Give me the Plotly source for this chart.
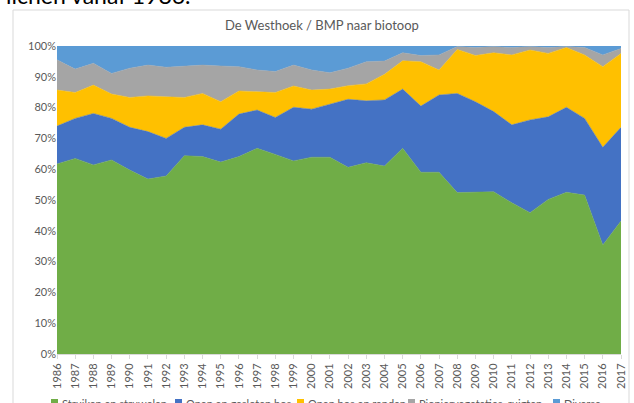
import plotly.graph_objects as go

years = list(range(1986, 2018))

struiken = [61.7, 63.5, 61.4, 63.0, 59.7, 56.8, 57.8, 64.4, 64.1, 62.3, 64.1, 66.8, 64.8, 62.7, 63.9, 63.9,
            60.6, 62.1, 61.0, 66.8, 59.0, 59.0, 52.4, 52.5, 52.7, 49.1, 45.9, 50.2, 52.5, 51.6, 35.4, 43.2]
open_gesloten_bos = [12.3, 13.0, 16.7, 13.5, 13.9, 15.4, 12.2, 9.2, 10.3, 10.7, 13.8, 12.4, 12.0, 17.4, 15.6, 17.2,
                     22.1, 20.1, 21.5, 19.2, 21.5, 25.1, 32.2, 29.4, 26.0, 25.3, 30.1, 26.8, 27.6, 24.9, 31.7, 30.4]
open_bos_randen = [11.7, 8.4, 9.2, 7.9, 9.7, 11.6, 13.5, 9.7, 10.2, 8.9, 7.5, 6.0, 8.1, 6.9, 6.2, 4.9,
                   4.4, 5.5, 8.3, 9.2, 14.4, 8.1, 14.3, 15.0, 19.1, 22.7, 22.7, 20.6, 19.4, 20.6, 26.2, 24.0]
pionier = [9.8, 7.6, 7.1, 6.7, 9.5, 10.0, 9.6, 10.2, 9.2, 11.6, 7.9, 7.0, 6.8, 6.8, 6.5, 5.3,
           5.7, 7.2, 4.3, 2.6, 2.0, 4.9, 0.9, 2.6, 2.0, 2.4, 1.1, 1.9, 0.3, 2.4, 3.8, 1.6]
diverse = [4.5, 7.5, 5.6, 8.9, 7.2, 6.2, 6.9, 6.5, 6.2, 6.5, 6.7, 7.8, 8.3, 6.2, 7.8, 8.7,
           7.2, 5.1, 4.9, 2.2, 3.1, 2.9, 0.2, 0.5, 0.2, 0.5, 0.2, 0.5, 0.2, 0.5, 2.9, 0.8]

series = [
    ("Struiken en struwelen", struiken, "#70AD47"),
    ("Open en gesloten bos", open_gesloten_bos, "#4472C4"),
    ("Open bos en randen", open_bos_randen, "#FFC000"),
    ("Pioniervegetaties, ruigten", pionier, "#A5A5A5"),
    ("Diverse", diverse, "#5B9BD5"),
]

FONT = "Lato, 'Open Sans', sans-serif"
TXT = "#595959"

fig = go.Figure()
for name, vals, col in series:
    fig.add_trace(go.Scatter(
        x=years, y=vals, name=name, mode="lines",
        stackgroup="one", groupnorm="percent",
        line=dict(width=0.5, color=col), fillcolor=col,
    ))

W, H = 634, 403
L, R, T, B = 57, 13, 46, 49
pw, ph = W - L - R, H - T - B

def px_x(x):
    return (x - L) / pw

def px_y(y):
    return (H - B - y) / ph

annotations = [
    dict(text="De Westhoek / BMP naar biotoop", xref="paper", yref="paper",
         x=px_x(322), y=px_y(25), xanchor="center", yanchor="middle", showarrow=False,
         font=dict(size=13, color=TXT, family=FONT)),
    dict(text="lichen vanaf 1986.", xref="paper", yref="paper",
         x=px_x(193), y=px_y(11), xanchor="right", yanchor="bottom", showarrow=False,
         font=dict(size=23, color="#000000", family=FONT)),
]
shapes = [
    dict(type="rect", xref="paper", yref="paper",
         x0=px_x(13), x1=px_x(629), y0=px_y(420), y1=px_y(10),
         line=dict(color="#D9D9D9", width=1), fillcolor="rgba(0,0,0,0)", layer="below"),
]

# legend drawn as squares + labels, in one row like the original
legend_x = [51, 175, 297, 408, 553]
for (name, _, col), lx in zip(series, legend_x):
    shapes.append(dict(type="rect", xref="paper", yref="paper",
                       x0=px_x(lx), x1=px_x(lx + 7), y0=px_y(406), y1=px_y(399),
                       line=dict(width=0), fillcolor=col, layer="above"))
    annotations.append(dict(text=name, xref="paper", yref="paper",
                            x=px_x(lx + 9), y=px_y(403.5), xanchor="left", yanchor="middle",
                            showarrow=False, font=dict(size=11, color=TXT, family=FONT)))

fig.update_layout(
    width=W, height=H,
    margin=dict(l=L, r=R, t=T, b=B, autoexpand=False),
    paper_bgcolor="white", plot_bgcolor="white",
    font=dict(family=FONT, color=TXT, size=11),
    showlegend=False,
    xaxis=dict(range=[1986, 2017], tickmode="linear", dtick=1, tick0=1986, tickangle=-90,
               showgrid=False, zeroline=False, showline=True, linecolor="#D9D9D9",
               ticks="outside", ticklen=4, tickcolor="#D9D9D9",
               tickfont=dict(size=11, color=TXT)),
    yaxis=dict(range=[0, 100], dtick=10, ticksuffix="%", showgrid=False, zeroline=False,
               showline=False, tickfont=dict(size=11, color=TXT)),
    annotations=annotations,
    shapes=shapes,
)

fig.write_html("out.html", config={"displayModeBar": False},
               post_script="document.body.style.margin='0';document.body.style.overflow='hidden';")
